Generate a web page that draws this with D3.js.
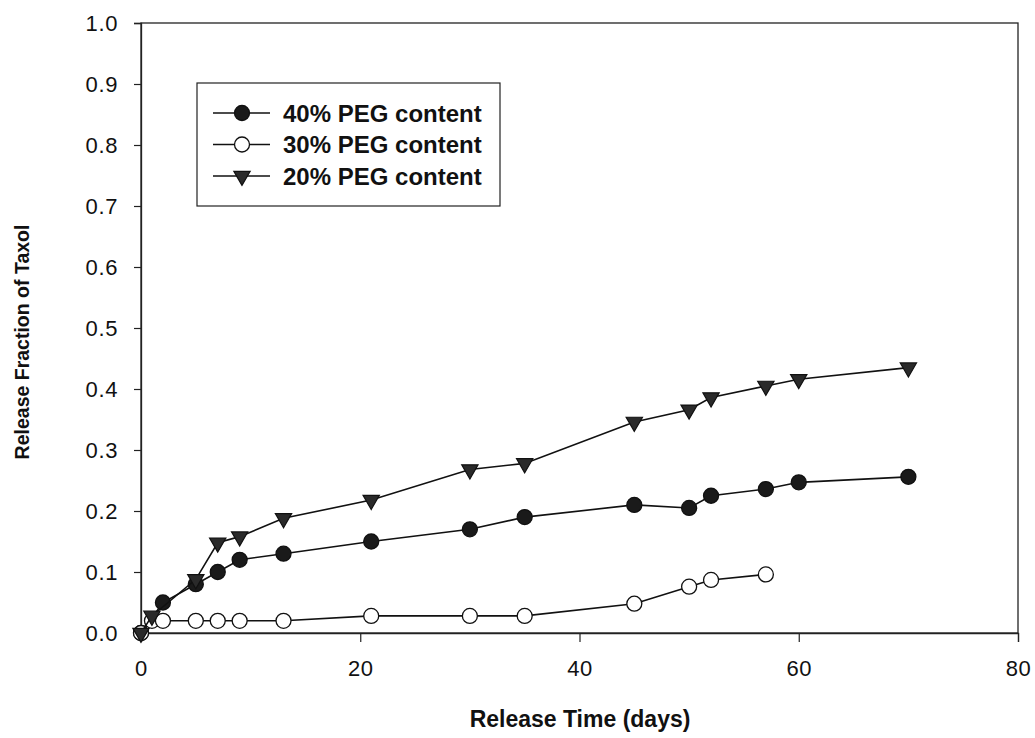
<!DOCTYPE html>
<html>
<head>
<meta charset="utf-8">
<script src="https://cdn.jsdelivr.net/npm/d3@7"></script>
<style>
  html, body { margin: 0; padding: 0; background: #fff; }
  svg text { font-family: "Liberation Sans", Arial, sans-serif; fill: #111; }
</style>
</head>
<body>
<svg id="chart" width="1035" height="738"></svg>
<script>
// Release of Taxol from films with different PEG content
const days40 = [0, 2, 5, 7, 9, 13, 21, 30, 35, 45, 50, 52, 57, 60, 70];
const frac40 = [0, 0.05, 0.08, 0.10, 0.12, 0.13, 0.15, 0.17, 0.19, 0.21, 0.205, 0.225, 0.236, 0.247, 0.256];

const days30 = [0, 1, 2, 5, 7, 9, 13, 21, 30, 35, 45, 50, 52, 57];
const frac30 = [0, 0.02, 0.02, 0.02, 0.02, 0.02, 0.02, 0.028, 0.028, 0.028, 0.048, 0.076, 0.087, 0.096];

const days20 = [0, 1, 5, 7, 9, 13, 21, 30, 35, 45, 50, 52, 57, 60, 70];
const frac20 = [0, 0.028, 0.088, 0.148, 0.158, 0.188, 0.218, 0.268, 0.278, 0.346, 0.366, 0.386, 0.405, 0.416, 0.435];

const seriesNames = ["40% PEG content", "30% PEG content", "20% PEG content"];
const xTicks = [0, 20, 40, 60, 80];
const yTicks = [0, 0.1, 0.2, 0.3, 0.4, 0.5, 0.6, 0.7, 0.8, 0.9, 1.0];

const series = [
  { name: seriesNames[0], days: days40, vals: frac40, symbol: "circle", fill: "#1a1a1a" },
  { name: seriesNames[1], days: days30, vals: frac30, symbol: "circle", fill: "#ffffff" },
  { name: seriesNames[2], days: days20, vals: frac20, symbol: "triangle", fill: "#2a2a2a" }
];

const svg = d3.select("#chart");
const plotLeft = 141, plotRight = 1018, plotTop = 23, plotBottom = 633;

const x = d3.scaleLinear().domain([0, 80]).range([plotLeft, plotRight]);
const y = d3.scaleLinear().domain([0, 1]).range([plotBottom, plotTop]);

// frame
svg.append("rect")
  .attr("x", plotLeft).attr("y", plotTop)
  .attr("width", plotRight - plotLeft).attr("height", plotBottom - plotTop)
  .attr("fill", "none").attr("stroke", "#222").attr("stroke-width", 1.3);

// axes
const xAxis = svg.append("g").attr("transform", `translate(0,${plotBottom})`)
  .call(d3.axisBottom(x).tickValues(xTicks).tickSize(9).tickPadding(18).tickFormat(d3.format("d")));
const yAxis = svg.append("g").attr("transform", `translate(${plotLeft},0)`)
  .call(d3.axisLeft(y).tickValues(yTicks).tickSize(7).tickPadding(16).tickFormat(d3.format(".1f")));

[xAxis, yAxis].forEach(g => {
  g.select(".domain").attr("stroke", "#222").attr("stroke-width", 1.3);
  g.selectAll(".tick line").attr("stroke", "#222").attr("stroke-width", 1.2);
  g.selectAll(".tick text")
    .style("font-family", "'Liberation Sans', Arial, sans-serif")
    .style("font-size", "22px").style("letter-spacing", "0.6px").attr("fill", "#111");
});

// axis titles
svg.append("text")
  .attr("x", 580).attr("y", 727)
  .attr("text-anchor", "middle")
  .style("font-size", "23px").style("font-weight", "bold")
  .text("Release Time (days)");

svg.append("text")
  .attr("transform", "translate(29,342) rotate(-90)")
  .attr("text-anchor", "middle")
  .style("font-size", "19.5px").style("font-weight", "bold")
  .text("Release Fraction of Taxol");

const line = d3.line().x(d => x(d[0])).y(d => y(d[1]));
const circleSym = d3.symbol().type(d3.symbolCircle).size(Math.PI * 7.5 * 7.5);
const triSym = d3.symbol().type(d3.symbolTriangle).size(115);

function drawMarker(g, s, px, py) {
  if (s.symbol === "circle") {
    g.append("path").attr("d", circleSym())
      .attr("transform", `translate(${px},${py})`)
      .attr("fill", s.fill).attr("stroke", "#111").attr("stroke-width", 1.3);
  } else {
    g.append("path").attr("d", triSym())
      .attr("transform", `translate(${px},${py}) rotate(180)`)
      .attr("fill", s.fill).attr("stroke", "#111").attr("stroke-width", 1.2);
  }
}

const plot = svg.append("g");
series.forEach(s => {
  const pts = s.days.map((d, i) => [d, s.vals[i]]);
  const g = plot.append("g");
  g.append("path").datum(pts).attr("d", line)
    .attr("fill", "none").attr("stroke", "#111").attr("stroke-width", 1.6);
  pts.forEach(p => drawMarker(g, s, x(p[0]), y(p[1])));
});

// legend
const lg = svg.append("g");
lg.append("rect").attr("x", 197).attr("y", 83).attr("width", 303).attr("height", 123)
  .attr("fill", "#fff").attr("stroke", "#222").attr("stroke-width", 1.2);
series.forEach((s, i) => {
  const cy = 113 + i * 31.5;
  lg.append("line").attr("x1", 213).attr("x2", 270).attr("y1", cy).attr("y2", cy)
    .attr("stroke", "#111").attr("stroke-width", 1.6);
  drawMarker(lg, s, 242, cy);
  lg.append("text").attr("x", 283).attr("y", cy).attr("dy", "0.36em")
    .style("font-size", "24px").style("font-weight", "bold")
    .text(s.name);
});
</script>
</body>
</html>
